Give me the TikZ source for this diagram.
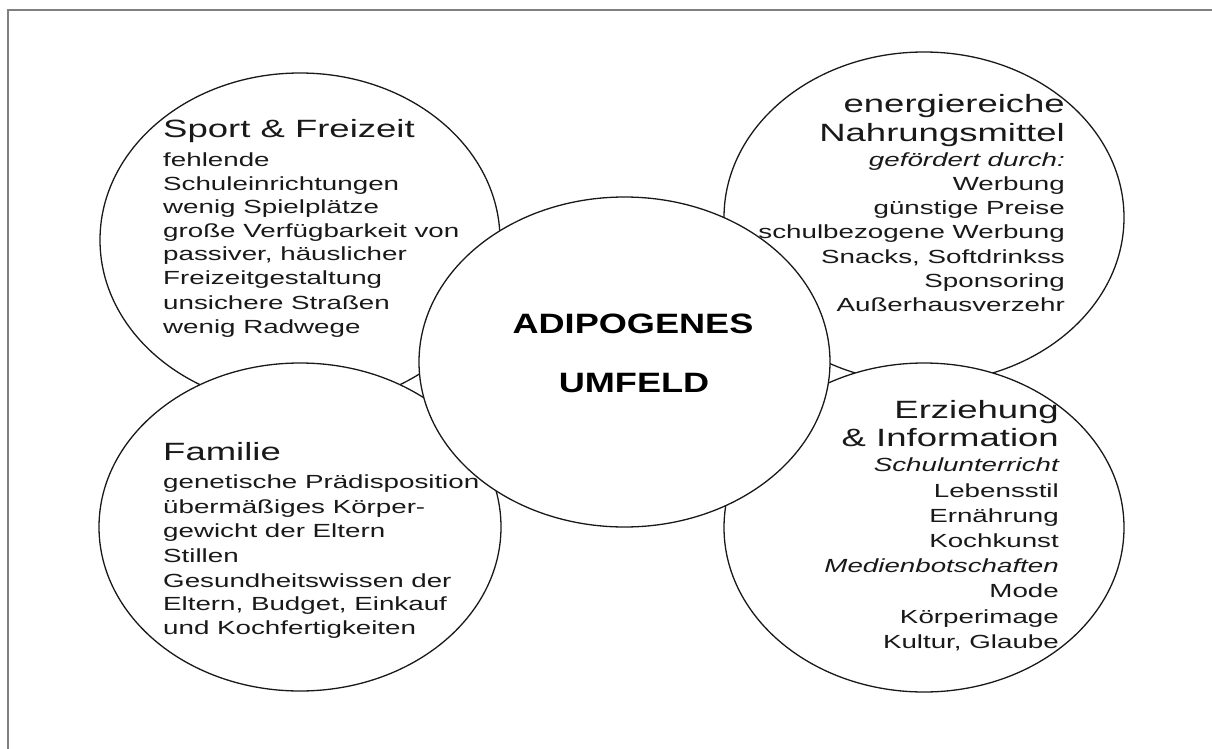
\documentclass[tikz,border=0pt]{standalone}
\usepackage{fontspec}
\usetikzlibrary{shapes.geometric}
\newfontfamily\bodyfont[FakeStretch=1.46]{Liberation Sans}
\newfontfamily\centfont[FakeStretch=1.29]{Liberation Sans}
\definecolor{framegray}{RGB}{128,128,128}
\definecolor{ink}{RGB}{25,25,25}
\tikzset{
  blob/.style={ellipse, draw=ink, line width=1.3pt, fill=white, inner sep=0pt},
  body/.style={inner sep=0pt, text=ink, font=\bodyfont\fontsize{19}{23}\selectfont},
  ibody/.style={inner sep=0pt, text=ink, font=\bodyfont\itshape\fontsize{19}{23}\selectfont},
  head/.style={inner sep=0pt, text=ink, font=\bodyfont\fontsize{25}{29}\selectfont},
  centre/.style={inner sep=0pt, text=black, font=\centfont\bfseries\fontsize{28}{32}\selectfont},
  frameline/.style={draw=framegray, line width=2pt}
}
\begin{document}
\begin{tikzpicture}[x=1pt,y=-1pt]
\useasboundingbox (0,0) rectangle (1212,749);
\coordinate (fa) at (8,749);
\coordinate (fb) at (8,10);
\coordinate (fc) at (1212,10);
\draw[frameline] (fa) -- (fb) -- (fc);

\node[blob, minimum width=400pt, minimum height=334pt] (sport) at (300,240) {};
\node[blob, minimum width=402pt, minimum height=328pt] (familie) at (300,527) {};
\node[blob, minimum width=400pt, minimum height=331pt] (energie) at (924,217.5) {};
\node[blob, minimum width=400pt, minimum height=329pt] (erz) at (924,527.5) {};
\node[blob, minimum width=411pt, minimum height=330pt] (mitte) at (624.5,362) {};

% centre
\node[centre, anchor=base] (c1) at (633,333) {ADIPOGENES};
\node[centre, anchor=base] (c2) at (634,392) {UMFELD};

% Sport & Freizeit
\node[head, anchor=base west] (s0) at (163,137) {Sport \& Freizeit};
\node[body, anchor=base west] (s1) at (163,166) {fehlende};
\node[body, anchor=base west] (s2) at (163,190) {Schuleinrichtungen};
\node[body, anchor=base west] (s3) at (163,213) {wenig Spielplätze};
\node[body, anchor=base west] (s4) at (163,237) {große Verfügbarkeit von};
\node[body, anchor=base west] (s5) at (163,260) {passiver, häuslicher};
\node[body, anchor=base west] (s6) at (163,284) {Freizeitgestaltung};
\node[body, anchor=base west] (s7) at (163,309) {unsichere Straßen};
\node[body, anchor=base west] (s8) at (163,333) {wenig Radwege};

% Familie
\node[head, anchor=base west] (f0) at (163,460) {Familie};
\node[body, anchor=base west] (f1) at (163,488) {genetische Prädisposition};
\node[body, anchor=base west] (f2) at (163,513) {übermäßiges Körper-};
\node[body, anchor=base west] (f3) at (163,537) {gewicht der Eltern};
\node[body, anchor=base west] (f4) at (163,562) {Stillen};
\node[body, anchor=base west] (f5) at (163,587) {Gesundheitswissen der};
\node[body, anchor=base west] (f6) at (163,610) {Eltern, Budget, Einkauf};
\node[body, anchor=base west] (f7) at (163,634) {und Kochfertigkeiten};

% energiereiche Nahrungsmittel
\node[head, anchor=base east] (e0) at (1065,113) {energiereiche};
\node[head, anchor=base east] (e1) at (1065,142) {Nahrungsmittel};
\node[ibody, anchor=base east] (e2) at (1065,166) {gefördert durch:};
\node[body, anchor=base east] (e3) at (1065,190) {Werbung};
\node[body, anchor=base east] (e4) at (1065,214) {günstige Preise};
\node[body, anchor=base east] (e5) at (1065,238) {schulbezogene Werbung};
\node[body, anchor=base east] (e6) at (1065,263) {Snacks, Softdrinkss};
\node[body, anchor=base east] (e7) at (1065,287) {Sponsoring};
\node[body, anchor=base east] (e8) at (1065,311) {Außerhausverzehr};

% Erziehung & Information
\node[head, anchor=base east] (r0) at (1059,418) {Erziehung};
\node[head, anchor=base east] (r1) at (1059,446) {\& Information};
\node[ibody, anchor=base east] (r2) at (1059,471) {Schulunterricht};
\node[body, anchor=base east] (r3) at (1059,497) {Lebensstil};
\node[body, anchor=base east] (r4) at (1059,522) {Ernährung};
\node[body, anchor=base east] (r5) at (1059,547) {Kochkunst};
\node[ibody, anchor=base east] (r6) at (1059,572) {Medienbotschaften};
\node[body, anchor=base east] (r7) at (1059,597) {Mode};
\node[body, anchor=base east] (r8) at (1059,623) {Körperimage};
\node[body, anchor=base east] (r9) at (1059,648) {Kultur, Glaube};
\end{tikzpicture}
\end{document}
